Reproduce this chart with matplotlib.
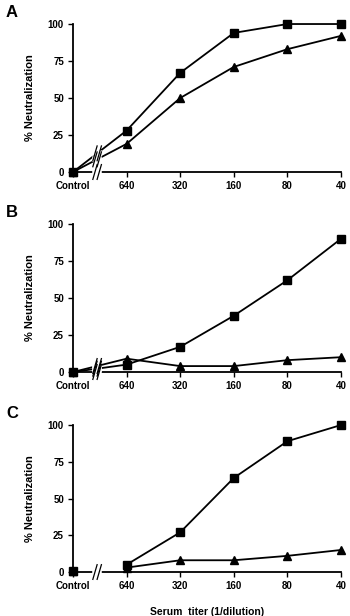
import matplotlib.pyplot as plt

plt.rcParams['font.family'] = ['Liberation Sans', 'DejaVu Sans']
plt.rcParams['font.weight'] = 'bold'

titers = ["Control", "640", "320", "160", "80", "40"]
x_pos = [0, 1, 2, 3, 4, 5]

# panel A
a_square = [0, 28, 67, 94, 100, 100]
a_tri = [0, 19, 50, 71, 83, 92]
# panel B
b_square = [0, 5, 17, 38, 62, 90]
b_tri = [0, 9, 4, 4, 8, 10]
# panel C (control point not joined to the curves)
c_square = [1, 5, 27, 64, 89, 100]
c_tri = [1, 3, 8, 8, 11, 15]

panels = [
    ("A", a_square, a_tri, True, [0.961, 0.7208]),
    ("B", b_square, b_tri, True, [0.6364, 0.3961]),
    ("C", c_square, c_tri, False, [0.310, 0.0714]),
]

fig = plt.figure(figsize=(3.5, 6.16), dpi=100)
left, right = 73 / 350, 341 / 350
brk = 0.45

for label, sq, tr, joined, (top, bottom) in panels:
    ax = fig.add_axes([left, bottom, right - left, top - bottom])
    for ys, m, ms in [(sq, "s", 6), (tr, "^", 6)]:
        if joined:
            ax.plot(x_pos, ys, color="black", lw=1.3, marker=m, ms=ms,
                    clip_on=False, zorder=3)
        else:
            ax.plot(x_pos[1:], ys[1:], color="black", lw=1.3, marker=m, ms=ms,
                    clip_on=False, zorder=3)
            ax.plot(x_pos[:1], ys[:1], color="black", ls="none", marker=m,
                    ms=ms, clip_on=False, zorder=3)
    ax.set_xlim(0, 5)
    ax.set_ylim(0, 100)
    ax.set_xticks(x_pos)
    ax.set_xticklabels(titers)
    ax.set_yticks([0, 25, 50, 75, 100])
    ax.tick_params(axis="both", labelsize=7, length=3.5, width=1,
                   direction="out", pad=3)
    for t in ax.get_xticklabels() + ax.get_yticklabels():
        t.set_fontweight("bold")
    for s in ["top", "right"]:
        ax.spines[s].set_visible(False)
    for s in ["left", "bottom"]:
        ax.spines[s].set_linewidth(1.3)
    ax.set_ylabel("% Neutralization", fontsize=8, fontweight="bold", labelpad=9)
    ax.patch.set_alpha(0)

    # axis break marks (also across the curves where they pass)
    ys_break = [0]
    if joined:
        ys_break += [0.45 * sq[1], 0.45 * tr[1]]
    for yb in ys_break:
        ax.plot([brk - 0.04, brk + 0.04], [yb, yb], color="white", lw=4,
                clip_on=False, zorder=4)
        for dx in (-0.04, 0.04):
            ax.plot([brk + dx - 0.04, brk + dx + 0.04], [yb - 5, yb + 5],
                    color="black", lw=0.9, clip_on=False, zorder=5)

    fig.text(6 / 350, top + 0.018, label, fontsize=12, fontweight="bold",
             va="center", ha="left")

fig.text((73 + 341) / 2 / 350, 1 - 612 / 616, "Serum  titer (1/dilution)",
         fontsize=7.5, fontweight="bold", ha="center", va="center")

fig.savefig("out.png", dpi=100)
